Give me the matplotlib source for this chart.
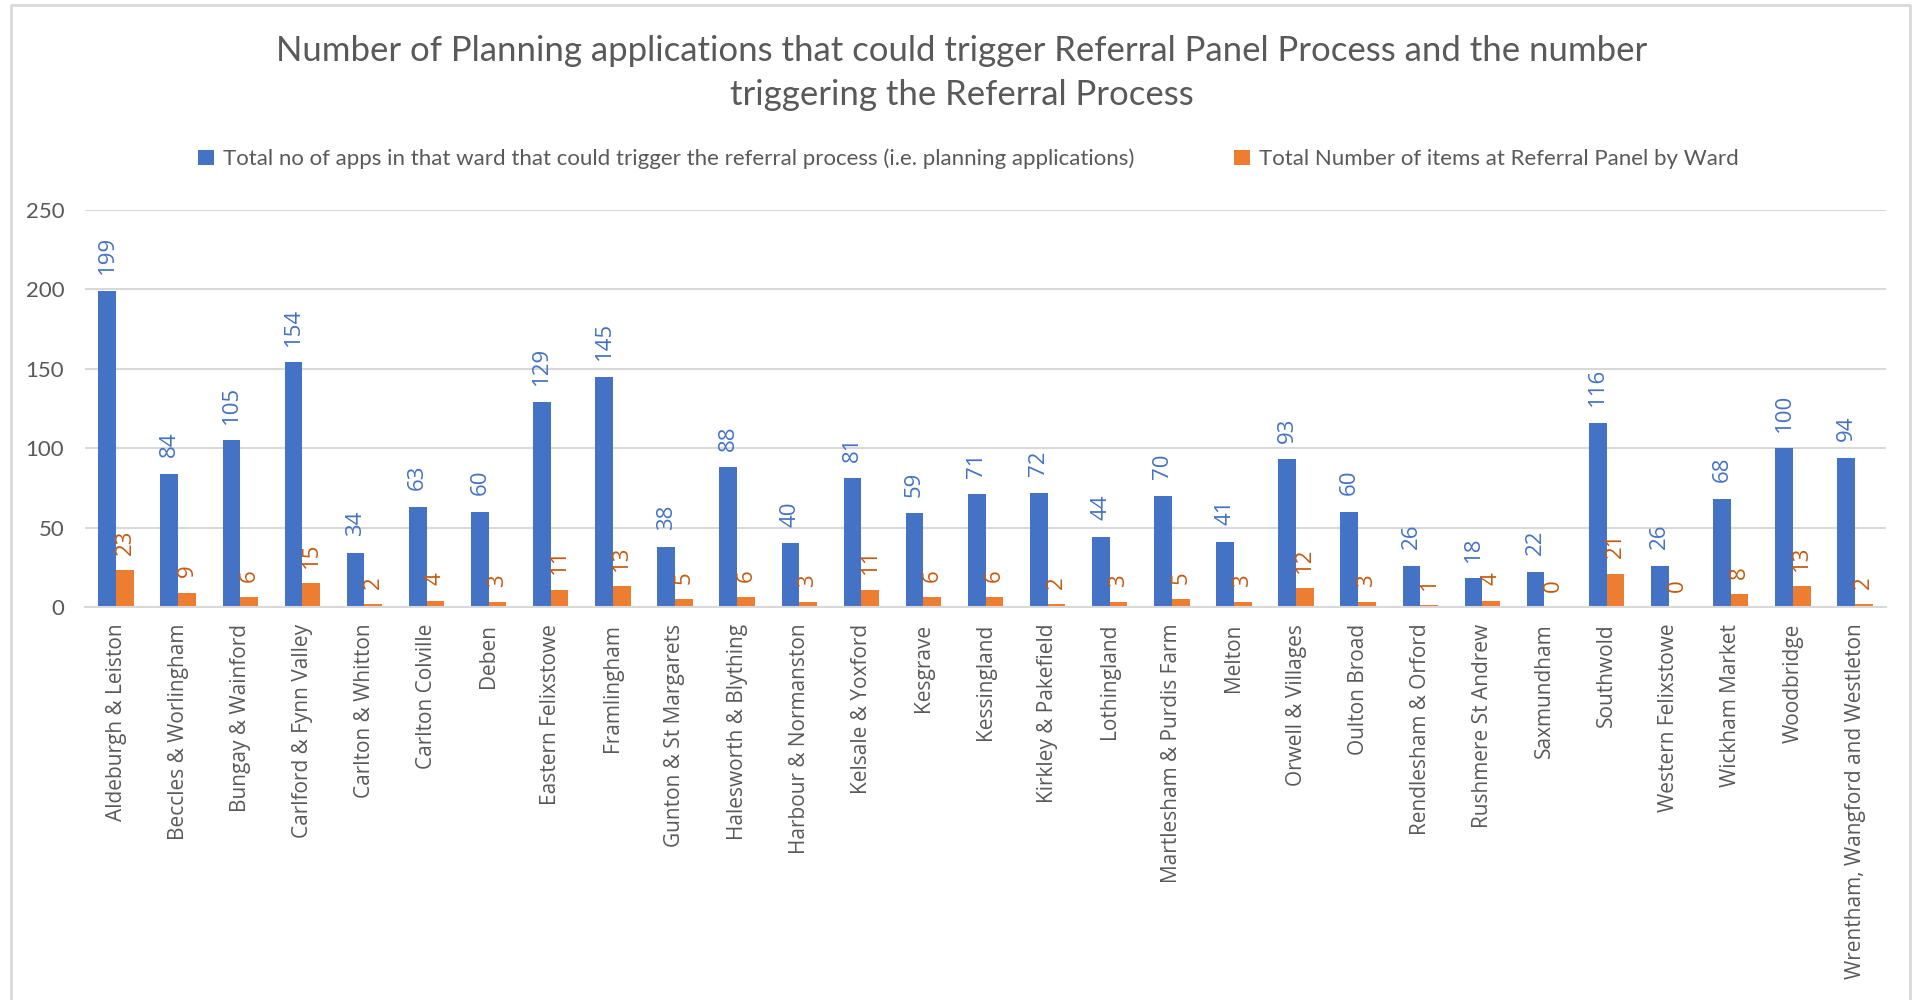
import numpy as np
import matplotlib
matplotlib.use("Agg")
import matplotlib.pyplot as plt
from matplotlib.lines import Line2D

wards = ["Aldeburgh & Leiston", "Beccles & Worlingham", "Bungay & Wainford",
         "Carlford & Fynn Valley", "Carlton & Whitton", "Carlton Colville", "Deben",
         "Eastern Felixstowe", "Framlingham", "Gunton & St Margarets",
         "Halesworth & Blything", "Harbour & Normanston", "Kelsale & Yoxford",
         "Kesgrave", "Kessingland", "Kirkley & Pakefield", "Lothingland",
         "Martlesham & Purdis Farm", "Melton", "Orwell & Villages", "Oulton Broad",
         "Rendlesham & Orford", "Rushmere St Andrew", "Saxmundham", "Southwold",
         "Western Felixstowe", "Wickham Market", "Woodbridge",
         "Wrentham, Wangford and Westleton"]
total_apps = [199, 84, 105, 154, 34, 63, 60, 129, 145, 38, 88, 40, 81, 59, 71, 72,
              44, 70, 41, 93, 60, 26, 18, 22, 116, 26, 68, 100, 94]
referral_items = [23, 9, 6, 15, 2, 4, 3, 11, 13, 5, 6, 3, 11, 6, 6, 2,
                  3, 5, 3, 12, 3, 1, 4, 0, 21, 0, 8, 13, 2]
series_names = ["Total no of apps in that ward that could trigger the referral process (i.e. planning applications)",
                "Total Number of items at Referral Panel by Ward"]
title = ("Number of Planning applications that could trigger Referral Panel Process and the number\n"
         "triggering the Referral Process")

blue = "#4472C4"
orange = "#ED7D31"
grey_text = "#595959"
grid_col = "#D9D9D9"

fig = plt.figure(figsize=(19.14, 10), dpi=100)
ax = fig.add_axes([0.0444, 0.393, 0.941, 0.397])

x = np.arange(len(wards))
w = 0.285
b1 = ax.bar(x - w / 2, total_apps, w, color=blue, label=series_names[0])
b2 = ax.bar(x + w / 2, referral_items, w, color=orange, label=series_names[1])

ax.bar_label(b1, rotation=90, padding=12, color=blue, fontsize=16, family="Open Sans")
ax.bar_label(b2, rotation=90, padding=11, color="#C55A11", fontsize=16, family="Open Sans")

ax.set_xlim(-0.5, len(wards) - 0.5)
ax.set_ylim(0, 250)
ax.set_yticks(range(0, 251, 50))
ax.set_xticks(x)
ax.set_xticklabels(wards, rotation=90, fontsize=15, color=grey_text, family="Open Sans")
ax.tick_params(axis="y", labelsize=16, labelcolor=grey_text, length=0, pad=15)
ax.tick_params(axis="x", length=0, pad=12)
for lbl in ax.get_yticklabels():
    lbl.set_family("Lato")

ax.grid(axis="y", color=grid_col, linewidth=1.5)
ax.set_axisbelow(True)
for s in ["top", "right", "left"]:
    ax.spines[s].set_visible(False)
ax.spines["bottom"].set_color(grid_col)
ax.spines["bottom"].set_linewidth(1.5)

fig.text(0.5025, 0.965, title, ha="center", va="top", fontsize=25, color=grey_text,
         family="Lato", linespacing=1.47)

fig.legend(handles=[b1, b2], labels=series_names, loc="center", bbox_to_anchor=(0.506, 0.841),
           ncol=2, frameon=False, handlelength=0.7, handleheight=0.7,
           handletextpad=0.4, columnspacing=4.5, labelcolor=grey_text, prop={"family": "Lato", "size": 16})

# chart frame
fig.add_artist(Line2D([0.0057, 0.0057, 0.998, 0.998], [0.0, 0.995, 0.995, 0.0],
                      transform=fig.transFigure, color=grid_col, linewidth=2))

fig.savefig("out.png", dpi=100, facecolor="white")
